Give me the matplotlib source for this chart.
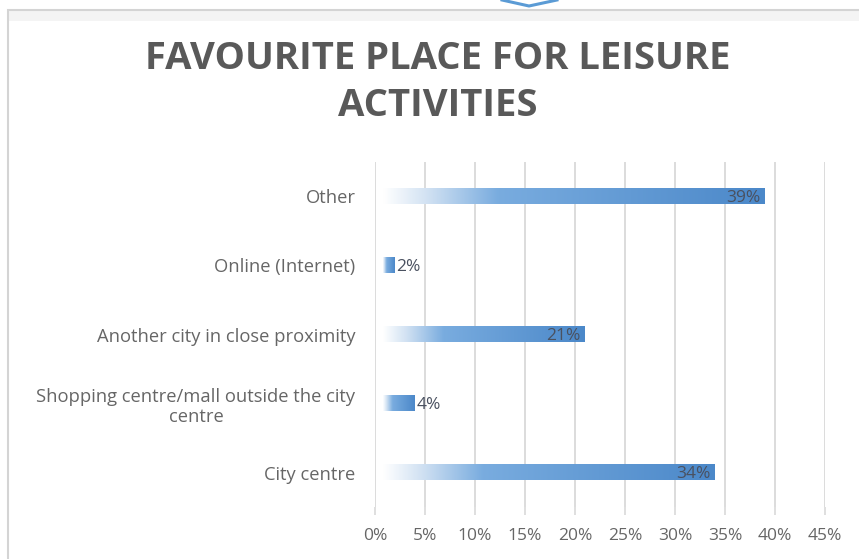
import numpy as np
import matplotlib.pyplot as plt
from matplotlib.colors import LinearSegmentedColormap
from matplotlib.lines import Line2D
from matplotlib.patches import Rectangle

plt.rcParams['font.family'] = ['Open Sans', 'DejaVu Sans']

categories = ['City centre',
              'Shopping centre/mall outside the city\ncentre',
              'Another city in close proximity',
              'Online (Internet)',
              'Other']
shares = [34, 4, 21, 2, 39]
tick_values = [0, 5, 10, 15, 20, 25, 30, 35, 40, 45]
tick_labels = ['0%', '5%', '10%', '15%', '20%', '25%', '30%', '35%', '40%', '45%']

W, H = 859, 559
fig = plt.figure(figsize=(W / 100, H / 100), dpi=100)
fig.patch.set_facecolor('white')

# outer chart frame (only left and top edges fall inside the image)
fig.add_artist(Rectangle((9 / W, (H - 21) / H), W / W, 11 / H,
                         transform=fig.transFigure, facecolor='#f4f4f4',
                         edgecolor='none'))
fig.add_artist(Rectangle((8 / W, -10 / H), (W + 20) / W, (H) / H,
                         transform=fig.transFigure, fill=False,
                         edgecolor='#d4d4d4', lw=1.5))
fig.add_artist(Line2D([502 / W, 529 / W, 557 / W], [1.0, (H - 6) / H, 1.0],
                      transform=fig.transFigure, color='#5b9bd5', lw=2.2))

ax = fig.add_axes([375 / W, (H - 507) / H, 450 / W, (507 - 162) / H])

cmap = LinearSegmentedColormap.from_list(
    'bar', [(0.0, '#ffffff'), (0.12, '#cfe0f2'), (0.3, '#79acdf'),
            (1.0, '#4b88c9')])
grad = np.linspace(0, 1, 256).reshape(1, -1)

ypos = np.arange(len(categories))
bar_h = 0.22
for y, v in zip(ypos, shares):
    ax.imshow(grad, cmap=cmap, aspect='auto', interpolation='bicubic',
              extent=[0.8, v, y - bar_h / 2, y + bar_h / 2], zorder=3)
    ax.annotate(f'{v}%', xy=(v, y), xytext=(-3 if v > 5 else 1, -1),
                textcoords='offset points', ha='right' if v > 5 else 'left',
                va='center', fontsize=12.5, color='#4a5160', zorder=4)

ax.set_xlim(0, 45)
ax.set_ylim(-0.5, len(categories) - 0.5)
ax.set_xticks(tick_values)
ax.set_xticklabels(tick_labels)
ax.set_yticks(ypos)
ax.set_yticklabels(categories, multialignment='center')
ax.grid(axis='x', color='#d9d9d9', lw=1.3, zorder=0)
ax.set_axisbelow(True)
for s in ax.spines.values():
    s.set_visible(False)
ax.tick_params(axis='x', length=6, width=1.2, color='#d9d9d9',
               labelcolor='#666666', labelsize=12.5, pad=9)
ax.tick_params(axis='y', length=0, labelcolor='#666666', labelsize=13.2,
               pad=14)

fig.text(438 / W, 1 - 59 / H, 'FAVOURITE PLACE FOR LEISURE', ha='center',
         va='center', fontsize=27.5, fontweight='bold', color='#595959')
fig.text(438 / W, 1 - 106 / H, 'ACTIVITIES', ha='center', va='center',
         fontsize=27.5, fontweight='bold', color='#595959')

fig.savefig('out.png', dpi=100)
